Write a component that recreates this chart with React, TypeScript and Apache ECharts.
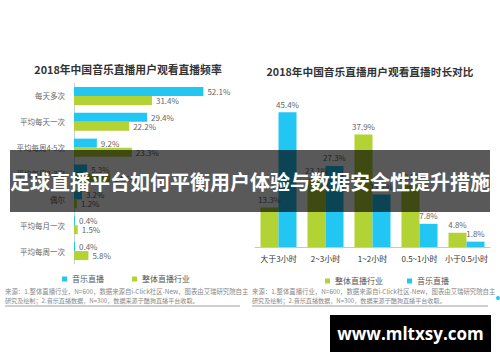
import { useEffect, useRef } from "react";
import * as echarts from "echarts";

const freqCategories = ["每天多次", "平均每天一次", "平均每周4-5次", "平均每周2-3次", "偶尔", "平均每月一次", "平均每周一次"];
const freqMusic = [52.1, 29.4, 9.2, 5.3, 3.2, 0.4, 0.4];
const freqIndustry = [31.4, 22.2, 23.3, 14.6, 1.2, 1.5, 5.8];

const durCategories = ["大于3小时", "2~3小时", "1~2小时", "0.5~1小时", "小于0.5小时"];
const durIndustry = [13.3, 23.1, 37.9, 20.9, 4.8];
const durMusic = [45.4, 27.3, 17.7, 7.8, 1.8];

const leftTitle = "2018年中国音乐直播用户观看直播频率";
const rightTitle = "2018年中国音乐直播用户观看直播时长对比";
const sourceLine1 = "来源：1.整体直播行业，N=600，数据来源自i-Click社区-New，图表由艾瑞研究院自主";
const sourceLine2 = "研究及绘制；2.音乐直播数据，N=300，数据来源于酷狗直播平台收取。";
const bannerText = "足球直播平台如何平衡用户体验与数据安全性提升措施";
const watermarkText = "www.mltxsy.com";

const BLUE = "#21c6f2";
const GREEN = "#b3d334";
const FONT = "'Noto Sans CJK SC', 'Noto Sans', sans-serif";

function txt(x: number, y: number, text: string, opts: any = {}, z = 10) {
  const align = opts.align || "left";
  const vAlign = opts.verticalAlign || "middle";
  return {
    type: "text",
    x,
    y,
    z,
    style: {
      text,
      fill: opts.fill || "#333",
      fontSize: opts.fontSize || 10,
      fontWeight: opts.fontWeight || "normal",
      fontFamily: opts.fontFamily || FONT,
      align,
      textAlign: align,
      verticalAlign: vAlign,
      textVerticalAlign: vAlign,
    },
  };
}

export default function App() {
  const ref = useRef<HTMLDivElement>(null);
  useEffect(() => {
    if (!ref.current) return;
    const chart = echarts.init(ref.current, null, { renderer: "svg" });
    const labelStyle = { fontSize: 8, color: "#666", fontFamily: FONT };
    const legendText = { fontSize: 8, color: "#555", fontFamily: FONT };
    chart.setOption({
      animation: false,
      backgroundColor: "#fff",
      textStyle: { fontFamily: FONT },
      grid: [
        { left: 74, top: 83, width: 149, height: 181 },
        { left: 255, top: 98.5, width: 235, height: 148.5 },
      ],
      xAxis: [
        { gridIndex: 0, type: "value", min: 0, max: 60, show: false },
        {
          gridIndex: 1,
          type: "category",
          data: durCategories,
          axisLine: { lineStyle: { color: "#c8c8c8", width: 1 } },
          axisTick: { show: false },
          axisLabel: { fontSize: 8, color: "#333", margin: 7, interval: 0, fontFamily: FONT },
        },
      ],
      yAxis: [
        {
          gridIndex: 0,
          type: "category",
          inverse: true,
          data: freqCategories,
          axisLine: { lineStyle: { color: "#c5d3de", width: 1 } },
          axisTick: { show: false },
          axisLabel: { fontSize: 7.5, color: "#666", margin: 9, fontFamily: FONT },
        },
        { gridIndex: 1, type: "value", min: 0, max: 50, show: false },
      ],
      legend: [
        {
          data: ["音乐直播", "整体直播行业"],
          left: 57,
          top: 270,
          icon: "rect",
          itemWidth: 5,
          itemHeight: 5,
          itemGap: 28,
          textStyle: legendText,
          selectedMode: false,
        },
        {
          data: ["整体直播行业", "音乐直播"],
          left: 320,
          top: 272,
          icon: "rect",
          itemWidth: 5,
          itemHeight: 5,
          itemGap: 24,
          textStyle: legendText,
          selectedMode: false,
        },
      ],
      series: [
        {
          name: "音乐直播",
          type: "bar",
          xAxisIndex: 0,
          yAxisIndex: 0,
          data: freqMusic,
          barWidth: 9,
          barGap: "0%",
          itemStyle: { color: BLUE },
          label: { show: true, position: "right", distance: 4, formatter: "{c}%", ...labelStyle },
        },
        {
          name: "整体直播行业",
          type: "bar",
          xAxisIndex: 0,
          yAxisIndex: 0,
          data: freqIndustry,
          barWidth: 9,
          barGap: "0%",
          itemStyle: { color: GREEN },
          label: { show: true, position: "right", distance: 4, formatter: "{c}%", ...labelStyle },
        },
        {
          name: "整体直播行业",
          type: "bar",
          xAxisIndex: 1,
          yAxisIndex: 1,
          data: durIndustry,
          barWidth: 18,
          barGap: "0%",
          itemStyle: { color: GREEN },
          label: { show: true, position: "top", distance: 4, formatter: "{c}%", ...labelStyle },
        },
        {
          name: "音乐直播",
          type: "bar",
          xAxisIndex: 1,
          yAxisIndex: 1,
          data: durMusic,
          barWidth: 18,
          barGap: "0%",
          itemStyle: { color: BLUE },
          label: { show: true, position: "top", distance: 4, formatter: "{c}%", ...labelStyle },
        },
      ],
      graphic: {
        elements: [
          txt(128, 69, leftTitle, { align: "center", fontSize: 10.8, fontWeight: "bold", fill: "#333" }),
          txt(370, 71, rightTitle, { align: "center", fontSize: 10.7, fontWeight: "bold", fill: "#333" }),
          txt(5, 291, sourceLine1, { fontSize: 6.4, fill: "#888" }),
          txt(5, 300, sourceLine2, { fontSize: 6.1, fill: "#888" }),
          txt(252, 291, sourceLine1, { fontSize: 6.4, fill: "#888" }),
          txt(252, 300, sourceLine2, { fontSize: 6.1, fill: "#888" }),
          { type: "line", z: 10, shape: { x1: 5, y1: 306, x2: 240, y2: 306 }, style: { stroke: "#cfcfcf", lineWidth: 2 } },
          { type: "line", z: 10, shape: { x1: 252, y1: 306, x2: 488, y2: 306 }, style: { stroke: "#cfcfcf", lineWidth: 2 } },
          { type: "circle", z: 10, shape: { cx: 498, cy: 298, r: 2 }, style: { fill: BLUE } },
          { type: "rect", z: 100, shape: { x: 10, y: 150, width: 480, height: 62 }, style: { fill: "rgba(0,0,0,0.65)" } },
          txt(250, 181, bannerText, { align: "center", fontSize: 20, fontWeight: "bold", fill: "#fff" }, 101),
          { type: "rect", z: 100, shape: { x: 330, y: 315, width: 161, height: 37 }, style: { fill: "#000" } },
          txt(410.5, 333.5, watermarkText, { align: "center", fontSize: 17, fontWeight: "bold", fill: "#fff", fontFamily: "'Open Sans', sans-serif" }, 101),
        ],
      },
    });
    return () => chart.dispose();
  }, []);
  return (
    <div
      ref={ref}
      style={{ position: "absolute", left: 0, top: 0, width: 500, height: 362, background: "#fff" }}
    />
  );
}
